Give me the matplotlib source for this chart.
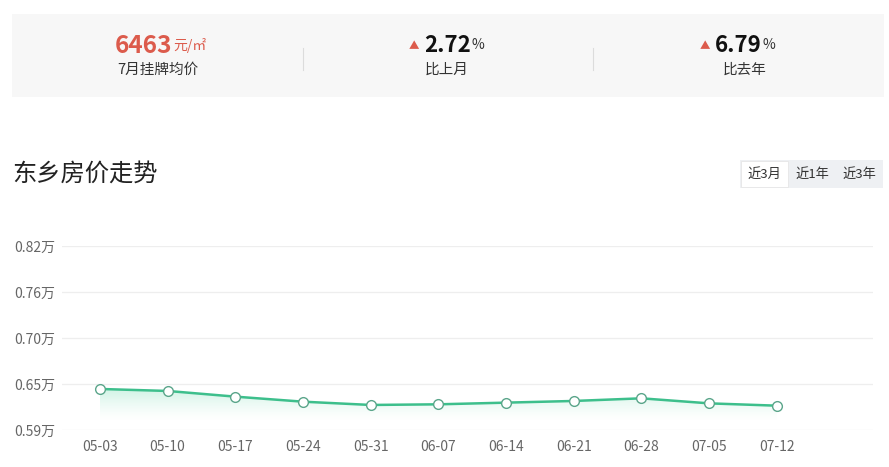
import numpy as np
import matplotlib
matplotlib.use('Agg')
import matplotlib.pyplot as plt
from matplotlib.patches import Rectangle

plt.rcParams['font.family'] = ['Noto Sans CJK SC', 'DejaVu Sans']

# data (unit: 万元/㎡)
dates = ['05-03', '05-10', '05-17', '05-24', '05-31', '06-07',
         '06-14', '06-21', '06-28', '07-05', '07-12']
prices = [0.6413, 0.6388, 0.6317, 0.6254, 0.6213, 0.6221,
          0.6242, 0.6263, 0.6296, 0.6233, 0.6204]
ytick_labels = ['0.59万', '0.65万', '0.70万', '0.76万', '0.82万']
avg_price = '6463'
month_label = '7月挂牌均价'
mom = '2.72'
yoy = '6.79'
title = '东乡房价走势'
ranges = ['近3月', '近1年', '近3年']

W, H = 889, 467
fig = plt.figure(figsize=(W / 100, H / 100), dpi=100)
renderer = fig.canvas.get_renderer()

def fx(px):
    return px / W

def fy(py):
    return 1 - py / H

# summary panel at top
fig.patches.append(Rectangle((fx(12), fy(97)), fx(872), 83 / H,
                             transform=fig.transFigure, facecolor='#f7f7f7',
                             edgecolor='none', zorder=0))
for xd in [303, 593]:
    fig.add_artist(plt.Line2D([fx(xd), fx(xd)], [fy(48), fy(70)],
                              transform=fig.transFigure, color='#dcdcdc', lw=0.8))

red = '#dc5b4c'

def after(t, s, size, color):
    # put unit text right after a number
    bb = t.get_window_extent(renderer)
    fig.text((bb.x1 + 1) / W, fy(45), s, color=color, fontsize=size,
             ha='left', va='center')

t1 = fig.text(fx(115), fy(46), avg_price, color=red, fontsize=17.5,
              fontweight='bold', ha='left', va='center')
after(t1, '元/㎡', 10, red)
fig.text(fx(158), fy(70), month_label, color='#333333', fontsize=10.5,
         ha='center', va='center')

fig.text(fx(414), fy(46), '▲', color=red, fontsize=7.5, ha='center', va='center')
t2 = fig.text(fx(424), fy(46), mom, color='#111111', fontsize=16,
              fontweight='bold', ha='left', va='center')
after(t2, '%', 10, '#333333')
fig.text(fx(447), fy(70), '比上月', color='#333333', fontsize=10.5,
         ha='center', va='center')

fig.text(fx(705), fy(46), '▲', color=red, fontsize=7.5, ha='center', va='center')
t3 = fig.text(fx(715), fy(46), yoy, color='#111111', fontsize=16,
              fontweight='bold', ha='left', va='center')
after(t3, '%', 10, '#333333')
fig.text(fx(745), fy(70), '比去年', color='#333333', fontsize=10.5,
         ha='center', va='center')

# section title
fig.text(fx(12), fy(174), title, color='#222222', fontsize=17.5,
         ha='left', va='center')

# range buttons
fig.patches.append(Rectangle((fx(740), fy(188)), fx(143), 28 / H,
                             transform=fig.transFigure, facecolor='#eef0f3',
                             edgecolor='none', zorder=0))
fig.patches.append(Rectangle((fx(741), fy(187)), fx(47), 26 / H,
                             transform=fig.transFigure, facecolor='#ffffff',
                             edgecolor='#e6e6e6', lw=0.6, zorder=1))
for lbl, cx in zip(ranges, [764, 812, 859]):
    fig.text(fx(cx), fy(174), lbl, color='#333333', fontsize=9.5,
             ha='center', va='center', zorder=2)

# line chart
ax = fig.add_axes([fx(62), fy(430), fx(873 - 62), (430 - 246) / H])
x = np.arange(len(dates))
line_color = '#3dbf8c'

ax.set_xlim(-0.56, 11.42)
ax.set_ylim(0.59, 0.82)

# gradient area under the line
poly = ax.fill_between(x, prices, 0.59, color='none')
grad = np.zeros((100, 1, 4))
grad[:, 0, 0:3] = matplotlib.colors.to_rgb('#5fd6a8')
grad[:, 0, 3] = np.linspace(0.45, 0.0, 100) ** 1.5
img = ax.imshow(grad, extent=[x[0], x[-1], 0.60, max(prices)], aspect='auto',
                origin='upper', zorder=1)
img.set_clip_path(poly.get_paths()[0], transform=ax.transData)
ax.set_xlim(-0.56, 11.42)
ax.set_ylim(0.59, 0.82)

ax.plot(x, prices, color=line_color, lw=1.8, marker='o', markersize=7,
        markerfacecolor='white', markeredgecolor='#5aa58a', markeredgewidth=1.0,
        zorder=3)

yt = np.linspace(0.59, 0.82, 5)
ax.set_yticks(yt)
ax.set_yticklabels(ytick_labels)
ax.set_xticks(x)
ax.set_xticklabels(dates)
ax.tick_params(axis='both', length=0, colors='#666666', labelsize=10)
ax.tick_params(axis='y', pad=5)
ax.tick_params(axis='x', pad=7)
for s in ax.spines.values():
    s.set_visible(False)
ax.grid(axis='y', color='#eeeeee', lw=0.9)
ax.set_axisbelow(True)

fig.savefig('out.png', dpi=100)
